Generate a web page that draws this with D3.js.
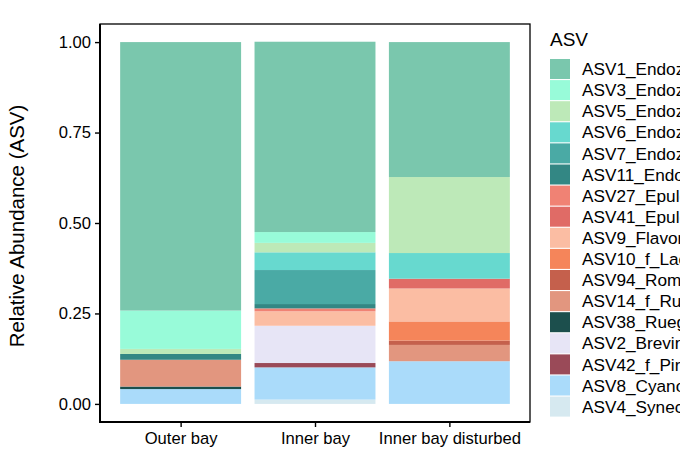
<!DOCTYPE html>
<html>
<head>
<meta charset="utf-8">
<script src="https://cdn.jsdelivr.net/npm/d3@7"></script>
<style>
	html, body { margin: 0; padding: 0; background: #fff; overflow: hidden; }
	svg { font-family: "Liberation Sans", Arial, Helvetica, sans-serif; display: block; }
</style>
</head>
<body>
<div id="chart"></div>
<script>

// sites on the x axis
var sites = [ "Outer bay", "Inner bay", "Inner bay disturbed" ];

// ASVs, legend order (first = top of the stack)
var asvs = [
	"ASV1_Endozoicomonas", "ASV3_Endozoicomonas", "ASV5_Endozoicomonas", "ASV6_Endozoicomonas",
	"ASV7_Endozoicomonas", "ASV11_Endozoicomonas", "ASV27_Epulopiscium", "ASV41_Epulopiscium",
	"ASV9_Flavorubrum", "ASV10_f_Lachnospiraceae", "ASV94_Romboutsia", "ASV14_f_Ruminococcaceae",
	"ASV38_Ruegeria", "ASV2_Brevinema", "ASV42_f_Pirellulaceae", "ASV8_Cyanobium", "ASV4_Synechococcus"
];

var colors = [
	"#7ac7ad", "#98fbd9", "#bde9b8", "#67d9cf", "#4aaaa5", "#338784", "#f08274", "#e06b66",
	"#fbbda3", "#f5855a", "#c5604c", "#e2967f", "#1c4f4d", "#e7e5f6", "#9a4a58", "#aadbfa", "#d6e9f0"
];

// relative abundance per site, same order as asvs
var outerBay =          [ 0.742, 0.106, 0.014, 0,     0,     0.016, 0,     0,     0,     0,     0,     0.074, 0.007, 0,     0,     0.041, 0     ];
var innerBay =          [ 0.526, 0.030, 0.026, 0.049, 0.094, 0.012, 0.008, 0,     0.040, 0,     0,     0,     0,     0.103, 0.012, 0.089, 0.012 ];
var innerBayDisturbed = [ 0.373, 0,     0.210, 0.071, 0,     0,     0,     0.027, 0.091, 0.053, 0.012, 0.045, 0,     0,     0,     0.118, 0     ];

var yTicks = [ 0, 0.25, 0.5, 0.75, 1 ];

var width = 680, height = 452;
var [ mT, mR, mB, mL ] = [ 24, 150, 30, 100 ];		// panel: 100..530 x 24..422

var table = [ outerBay, innerBay, innerBayDisturbed ].map((vals, i) => {
	var row = { site: sites[i] };
	asvs.forEach((a, j) => row[a] = vals[j]);
	return row;
});

// bottom of stack = last ASV
var stack = d3.stack().keys(asvs.slice().reverse())(table);

// ggplot discrete axis: 0.6 unit expansion each side, bars 0.9 wide
var x = d3.scaleLinear([ 0.4, sites.length + 0.6 ], [ mL, width - mR ]);
var xc = s => x(sites.indexOf(s) + 1);
var bw = x(1.9) - x(1);

var y = d3.scaleLinear([ -0.05, 1.05 ], [ height - mB, mT ]);

var color = d3.scaleOrdinal(asvs, colors);

var svg = d3.select("#chart").append("svg")
	.attr("width", width)
	.attr("height", height);

svg.append("g")
	.selectAll("g")
	.data(stack)
	.join("g")
	.attr("fill", d => color(d.key))
	.selectAll("rect")
	.data(d => d.filter(p => p[1] - p[0] > 0))
	.join("rect")
	.attr("x", d => xc(d.data.site) - bw / 2)
	.attr("width", bw)
	.attr("y", d => y(d[1]))
	.attr("height", d => y(d[0]) - y(d[1]));

// panel border
svg.append("rect")
	.attr("x", mL)
	.attr("y", mT)
	.attr("width", width - mR - mL)
	.attr("height", height - mB - mT)
	.attr("fill", "none")
	.attr("stroke", "#000")
	.attr("stroke-width", 1.3);

var yAxis = svg.append("g")
	.attr("transform", `translate(${mL}, 0)`)
	.call(d3.axisLeft(y).tickValues(yTicks).tickFormat(d3.format(".2f")).tickSize(5).tickPadding(4));

var xAxis = svg.append("g")
	.attr("transform", `translate(0, ${height - mB})`)
	.call(d3.axisBottom(d3.scalePoint(sites, [ xc(sites[0]), xc(sites[2]) ])).tickSize(5).tickPadding(5));

[ yAxis, xAxis ].forEach(a => {
	a.select(".domain").attr("stroke-width", 2);
	a.selectAll(".tick line").attr("stroke-width", 1.4);
	a.selectAll("text").attr("fill", "#000").style("font-size", "16.6px");
});
yAxis.select(".domain").attr("d", `M0,${mT}V${height - mB + 1}`);
xAxis.select(".domain").attr("d", `M${mL - 1},0H${width - mR}`);

svg.append("text")
	.attr("transform", `translate(24, ${(mT + height - mB) / 2 + 3}) rotate(-90)`)
	.attr("text-anchor", "middle")
	.style("font-size", "20.5px")
	.text("Relative Abundance (ASV)");

// legend
var legend = svg.append("g").attr("transform", "translate(550, 0)");

legend.append("text")
	.attr("x", 0)
	.attr("y", 46)
	.style("font-size", "19px")
	.text("ASV");

var item = legend.selectAll("g.item")
	.data(asvs)
	.join("g")
	.attr("class", "item")
	.attr("transform", (d, i) => `translate(0, ${59 + i * 21.1})`);

item.append("rect")
	.attr("width", 20)
	.attr("height", 20)
	.attr("fill", d => color(d));

item.append("text")
	.attr("x", 32)
	.attr("y", 10)
	.attr("dy", "0.36em")
	.style("font-size", "17.2px")
	.text(d => d);

</script>
</body>
</html>
